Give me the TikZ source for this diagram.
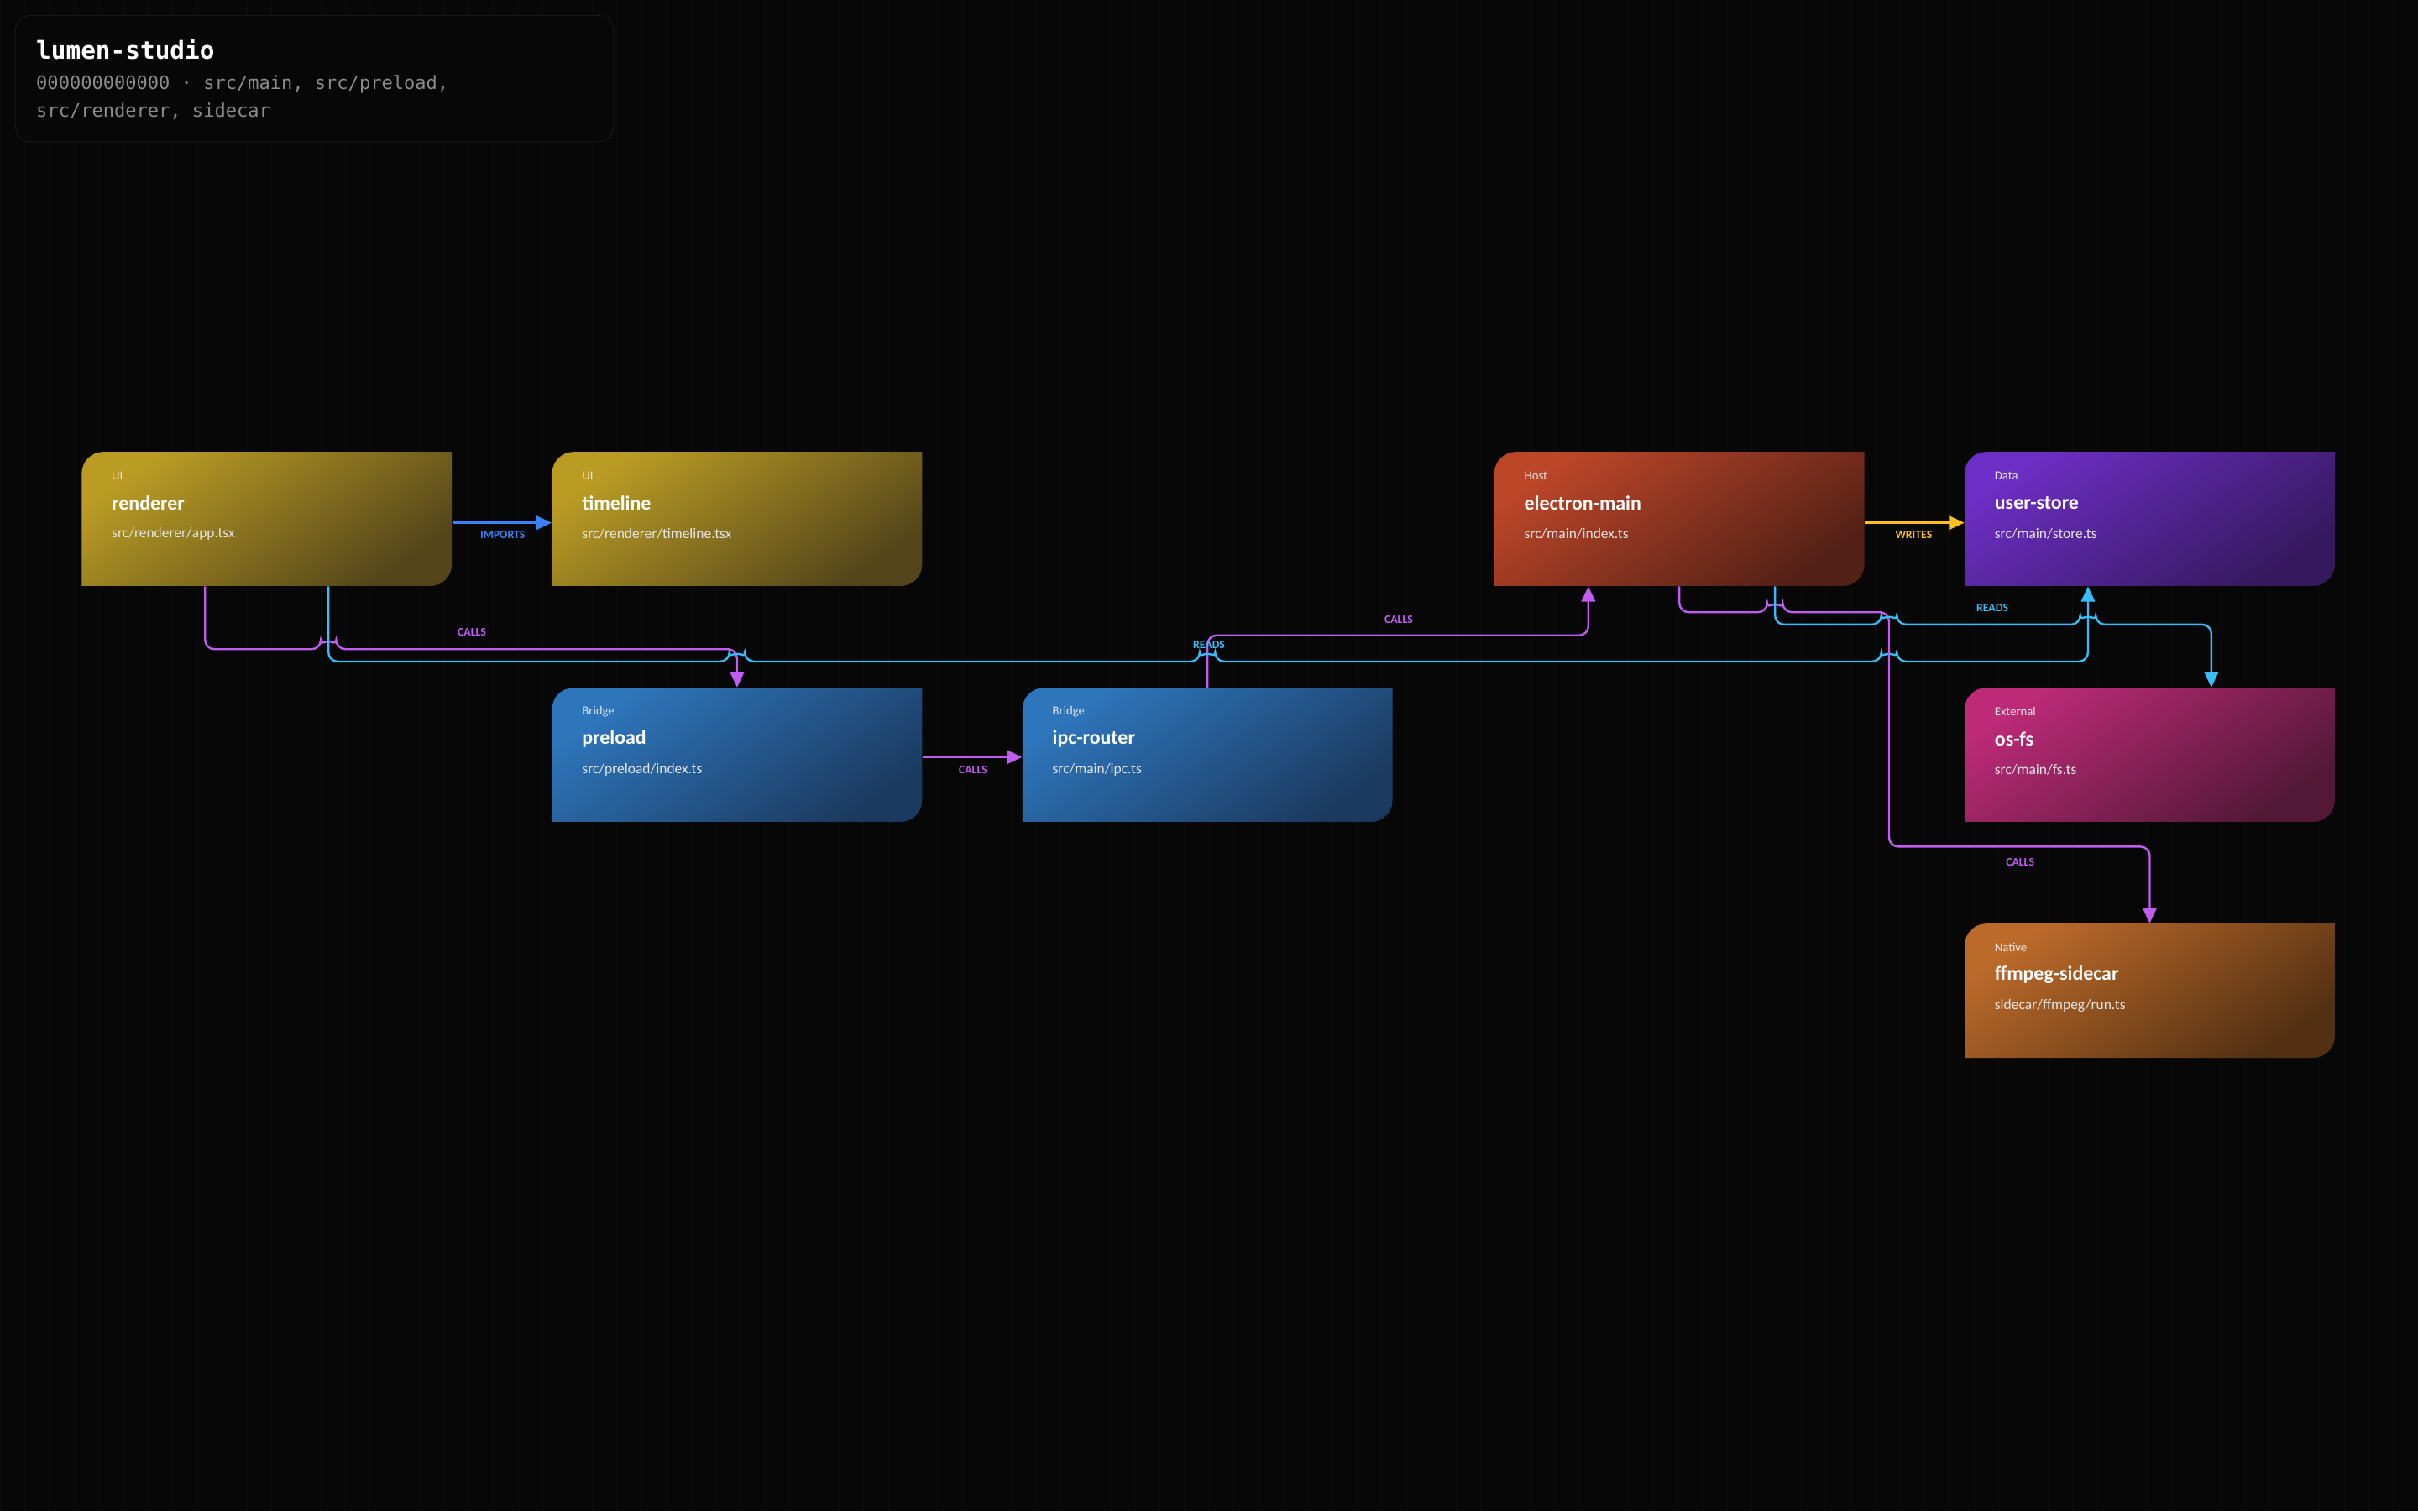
\documentclass[tikz,border=0pt]{standalone}
\usepackage{fontspec}
\setmainfont{Carlito}
\setmonofont{DejaVu Sans Mono}
\usetikzlibrary{arrows.meta}
\definecolor{bg}{HTML}{070707}
\definecolor{gridc}{HTML}{0E0E0E}
\definecolor{ui1}{HTML}{BA9C24}\definecolor{ui2}{HTML}{54451A}
\definecolor{br1}{HTML}{2E76BC}\definecolor{br2}{HTML}{1B3A60}
\definecolor{ho1}{HTML}{BC4628}\definecolor{ho2}{HTML}{532016}
\definecolor{da1}{HTML}{6C2EC4}\definecolor{da2}{HTML}{36185E}
\definecolor{ex1}{HTML}{BC2A78}\definecolor{ex2}{HTML}{521836}
\definecolor{na1}{HTML}{BC6A2A}\definecolor{na2}{HTML}{533012}
\definecolor{callc}{HTML}{C05CF0}
\definecolor{readc}{HTML}{38BDF8}
\definecolor{impc}{HTML}{3B82F6}
\definecolor{writec}{HTML}{FBBF24}
\begin{document}
\begin{tikzpicture}[x=1pt,y=-1pt]
    \tikzstyle{card}=[rectangle,minimum width=240pt,minimum height=87pt,inner sep=0pt]
    \tikzstyle{edge}=[line width=1.3pt,rounded corners=6pt,-{Triangle[length=10pt,width=9pt]}]
    \tikzstyle{lbl}=[font=\bfseries\fontsize{7.5}{8}\selectfont,inner sep=1pt]
    \useasboundingbox (0,0) rectangle (1568,980);
    \fill[bg] (0,0) rectangle (1568,980);
    \draw[gridc,line width=0.4pt] (0,0) grid[step=16] (1568,980);
    % header
    \draw[fill=bg,draw=black!88!white,rounded corners=10pt] (10,10) rectangle (398,92);
    \node[anchor=west,text=white,font=\ttfamily\bfseries\fontsize{16}{18}\selectfont] (title) at (20,32) {lumen-studio};
    \node[anchor=north west,text=white!55!black,font=\ttfamily\fontsize{12}{18}\selectfont,align=left] (sub) at (20,45)
        {000000000000 · src/main, src/preload,\\src/renderer, sidecar};
    % cards
    \foreach \name/\x/\y/\tag/\ttl/\fpath/\c in {
        renderer/173/336.5/UI/renderer/src\slash renderer\slash app.tsx/ui,
        timeline/478/336.5/UI/timeline/src\slash renderer\slash timeline.tsx/ui,
        electron-main/1089/336.5/Host/electron-main/src\slash main\slash index.ts/ho,
        user-store/1394/336.5/Data/user-store/src\slash main\slash store.ts/da,
        preload/478/489.5/Bridge/preload/src\slash preload\slash index.ts/br,
        ipc-router/783/489.5/Bridge/ipc-router/src\slash main\slash ipc.ts/br,
        os-fs/1394/489.5/External/os-fs/src\slash main\slash fs.ts/ex,
        ffmpeg-sidecar/1394/642.5/Native/ffmpeg-sidecar/sidecar\slash ffmpeg\slash run.ts/na}
    {
        \shade[top color=\c1,bottom color=\c2,shading angle=35]
            (\x-120,\y+43.5) -- (\x-120,\y-29.5) arc[start angle=180,end angle=270,radius=14]
            -- (\x+120,\y-43.5) -- (\x+120,\y+29.5) arc[start angle=0,end angle=90,radius=14] -- cycle;
        \node[card] (\name) at (\x,\y) {};
        \node[anchor=west,text=white!90!black,font=\fontsize{8}{9}\selectfont] (\name-tag) at (\x-104,\y-28) {\tag};
        \node[anchor=west,text=white,font=\bfseries\fontsize{13}{15}\selectfont] (\name-ttl) at (\x-104,\y-10.5) {\ttl};
        \node[anchor=west,text=white!90!black,font=\fontsize{9.5}{11}\selectfont] (\name-path) at (\x-104,\y+9.5) {\fpath};
    }
    % connectors
    \draw[edge,impc] (renderer.east |- 0,339) -- (timeline.west |- 0,339);
    \node[lbl,text=impc] (l-imp) at (326,347) {IMPORTS};
    \draw[edge,writec] (electron-main.east |- 0,339) -- (user-store.west |- 0,339);
    \node[lbl,text=writec] (l-wr) at (1241,347) {WRITES};
    \draw[edge,callc] (preload.east |- 0,491) -- (ipc-router.west |- 0,491);
    \node[lbl,text=callc] (l-c1) at (631,499) {CALLS};
    \draw[edge,callc] ([xshift=-40pt]renderer.south) -- (133,421) -- (208,421)
        arc[start angle=180,end angle=360,radius=5] -- (478,421) -- (preload.north);
    \node[lbl,text=callc] (l-c2) at (306,410) {CALLS};
    \draw[edge,callc] (ipc-router.north) -- (783,412) -- (1030,412) -- ([xshift=-59pt]electron-main.south);
    \node[lbl,text=callc] (l-c3) at (907,402) {CALLS};
    \draw[edge,readc] ([xshift=40pt]renderer.south) -- (213,429) -- (473,429)
        arc[start angle=180,end angle=360,radius=5] -- (778,429)
        arc[start angle=180,end angle=360,radius=5] -- (1220,429)
        arc[start angle=180,end angle=360,radius=5] -- (1354,429) -- ([xshift=-40pt]user-store.south);
    \node[lbl,text=readc] (l-r1) at (784,418) {READS};
    \draw[edge,callc] (electron-main.south) -- (1089,397) -- (1146,397)
        arc[start angle=180,end angle=360,radius=5] -- (1225,397) -- (1225,549) -- (1394,549) -- (ffmpeg-sidecar.north);
    \node[lbl,text=callc] (l-c4) at (1310,559) {CALLS};
    \draw[edge,readc] ([xshift=62pt]electron-main.south) -- (1151,405) -- (1220,405)
        arc[start angle=180,end angle=360,radius=5] -- (1349,405)
        arc[start angle=180,end angle=360,radius=5] -- (1434,405) -- ([xshift=40pt]os-fs.north);
    \node[lbl,text=readc] (l-r2) at (1292,394) {READS};
\end{tikzpicture}
\end{document}
